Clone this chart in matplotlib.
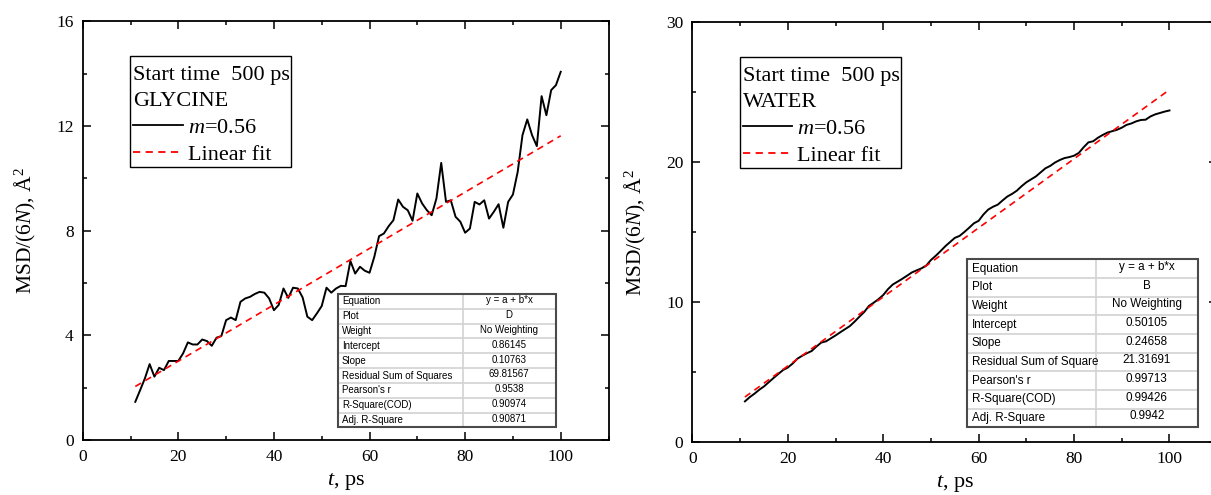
import matplotlib
matplotlib.use("Agg")
import matplotlib.pyplot as plt
from matplotlib.patches import Rectangle
from matplotlib.lines import Line2D
from matplotlib.ticker import MultipleLocator

plt.rcParams["font.family"] = ["Liberation Serif", "DejaVu Serif"]
plt.rcParams["mathtext.fontset"] = "custom"
plt.rcParams["mathtext.rm"] = "Liberation Serif"
plt.rcParams["mathtext.it"] = "Liberation Serif:italic"

# ---- data -------------------------------------------------------------
t_ps = list(range(11, 101))

msd_glycine = [
    1.46, 1.90, 2.35, 2.90, 2.42, 2.76, 2.67, 3.02, 3.02, 3.02,
    3.31, 3.73, 3.65, 3.65, 3.84, 3.78, 3.60, 3.91, 3.97, 4.58,
    4.68, 4.58, 5.28, 5.41, 5.47, 5.58, 5.66, 5.63, 5.41, 4.96,
    5.16, 5.79, 5.43, 5.82, 5.79, 5.45, 4.71, 4.58, 4.84, 5.12,
    5.82, 5.63, 5.79, 5.89, 5.88, 6.84, 6.36, 6.62, 6.47, 6.39,
    7.00, 7.79, 7.89, 8.17, 8.40, 9.19, 8.91, 8.78, 8.38, 9.42,
    9.04, 8.78, 8.59, 9.23, 10.59, 9.10, 9.16, 8.53, 8.34, 7.92,
    8.08, 9.10, 9.00, 9.16, 8.46, 8.72, 9.01, 8.11, 9.10, 9.38,
    10.25, 11.65, 12.25, 11.65, 11.23, 13.14, 12.41, 13.37, 13.56, 14.07,
]

msd_water = [
    2.90, 3.20, 3.45, 3.73, 3.97, 4.27, 4.57, 4.86, 5.14, 5.32,
    5.60, 5.95, 6.16, 6.34, 6.50, 6.82, 7.10, 7.19, 7.40, 7.61,
    7.84, 8.06, 8.28, 8.60, 8.95, 9.28, 9.72, 9.95, 10.20, 10.50,
    10.92, 11.25, 11.45, 11.66, 11.88, 12.11, 12.26, 12.40, 12.60, 13.00,
    13.30, 13.63, 13.98, 14.28, 14.58, 14.72, 15.00, 15.30, 15.62, 15.80,
    16.25, 16.60, 16.80, 16.95, 17.25, 17.53, 17.72, 17.95, 18.27, 18.55,
    18.76, 18.97, 19.26, 19.55, 19.72, 19.96, 20.14, 20.28, 20.35, 20.45,
    20.65, 21.05, 21.40, 21.48, 21.73, 21.93, 22.10, 22.20, 22.30, 22.45,
    22.65, 22.75, 22.90, 23.00, 23.02, 23.25, 23.40, 23.50, 23.60, 23.68,
]

# linear fit parameters: intercept a, slope b
fit_glycine = (0.86145, 0.10763)
fit_water = (0.50105, 0.24658)

report_keys_glycine = ["Equation", "Plot", "Weight", "Intercept", "Slope",
                       "Residual Sum of Squares", "Pearson's r",
                       "R-Square(COD)", "Adj. R-Square"]
report_keys_water = ["Equation", "Plot", "Weight", "Intercept", "Slope",
                     "Residual Sum of Square", "Pearson's r",
                     "R-Square(COD)", "Adj. R-Square"]
report_glycine = ["y = a + b*x", "D", "No Weighting",
                  f"{fit_glycine[0]:.5f}", f"{fit_glycine[1]:.5f}",
                  "69.81567", "0.9538", "0.90974", "0.90871"]
report_water = ["y = a + b*x", "B", "No Weighting",
                f"{fit_water[0]:.5f}", f"{fit_water[1]:.5f}",
                "21.31691", "0.99713", "0.99426", "0.9942"]

start_label = "Start time  500 ps"
system_glycine = "GLYCINE"
system_water = "WATER"
series_label = r"$\mathit{m}$=0.56"
fit_label = "Linear fit"


def style_axes(ax, ymax, ymajor, yminor):
    ax.set_xlim(0, 110)
    ax.set_ylim(0, ymax)
    ax.xaxis.set_major_locator(MultipleLocator(20))
    ax.xaxis.set_minor_locator(MultipleLocator(10))
    ax.yaxis.set_major_locator(MultipleLocator(ymajor))
    ax.yaxis.set_minor_locator(MultipleLocator(yminor))
    ax.tick_params(which="both", direction="in", top=True, right=True,
                   labelsize=12.5, pad=6.5, width=1.1)
    ax.tick_params(which="major", length=5.5)
    ax.tick_params(which="minor", length=3)
    for sp in ax.spines.values():
        sp.set_linewidth(1.3)
    ax.set_xlabel(r"$\mathit{t}$, ps", fontsize=16, labelpad=4)
    ax.set_ylabel(r"MSD/(6$\mathit{N}$), Å$^2$", fontsize=15.5, labelpad=13)


def draw_key(ax, system):
    tr = ax.transAxes
    ax.add_patch(Rectangle((0.090, 0.6525), 0.307, 0.2635, transform=tr,
                           facecolor="white", edgecolor="black", lw=1.0,
                           zorder=8))
    fs = 16
    ax.text(0.0962, 0.8595, start_label, transform=tr, fontsize=fs,
            va="baseline", ha="left", zorder=9)
    ax.text(0.0962, 0.7965, system, transform=tr, fontsize=fs,
            va="baseline", ha="left", zorder=9)
    ax.add_line(Line2D([0.0962, 0.190], [0.752, 0.752], transform=tr,
                       color="black", lw=1.3, zorder=9))
    ax.text(0.1999, 0.7325, series_label, transform=tr, fontsize=fs,
            va="baseline", ha="left", zorder=9)
    ax.add_line(Line2D([0.0962, 0.190], [0.687, 0.687], transform=tr,
                       color="red", lw=1.3, ls=(0, (4, 3)), zorder=9))
    ax.text(0.1999, 0.6695, fit_label, transform=tr, fontsize=fs,
            va="baseline", ha="left", zorder=9)


def draw_report(ax, keys, values, x0, x1, xd, ytop, ybot, fontsize, padx):
    tr = ax.transAxes
    n = len(keys)
    h = (ytop - ybot) / n
    ax.add_patch(Rectangle((x0, ybot), x1 - x0, ytop - ybot, transform=tr,
                           facecolor="white", edgecolor="none", zorder=4))
    for i in range(1, n):
        y = ytop - i * h
        ax.add_line(Line2D([x0, x1], [y, y], transform=tr,
                           color="#d2d2d2", lw=1.2, zorder=5))
    ax.add_line(Line2D([xd, xd], [ybot, ytop], transform=tr,
                       color="#d2d2d2", lw=1.2, zorder=5))
    ax.add_patch(Rectangle((x0, ybot), x1 - x0, ytop - ybot, transform=tr,
                           facecolor="none", edgecolor="#4a4a4a", lw=1.5,
                           zorder=6))
    for i, (k, v) in enumerate(zip(keys, values)):
        yc = ytop - (i + 0.5) * h
        ax.text(x0 + padx, yc, k, transform=tr, fontsize=fontsize,
                family="Liberation Sans", ha="left", va="center", zorder=7)
        ax.text((xd + x1) / 2, yc + h * 0.08, v, transform=tr,
                fontsize=fontsize, family="Liberation Sans", ha="center",
                va="center", zorder=7)


fig = plt.figure(figsize=(12.11, 4.95), dpi=100)

# ---- glycine panel ----------------------------------------------------
ax1 = fig.add_axes([0.0683, 0.1111, 0.4342, 0.8459])
a, b = fit_glycine
ax1.plot(t_ps, msd_glycine, color="black", lw=1.4, zorder=3)
ax1.plot([t_ps[0], t_ps[-1]], [a + b * t_ps[0], a + b * t_ps[-1]],
         color="red", lw=1.2, ls=(0, (4, 3)), zorder=3)
style_axes(ax1, 16, 4, 2)
draw_key(ax1, system_glycine)
draw_report(ax1, report_keys_glycine, report_glycine,
            0.4863, 0.8992, 0.7223, 0.3487, 0.0299, 7, 0.0065)

# ---- water panel ------------------------------------------------------
ax2 = fig.add_axes([0.5718, 0.1071, 0.4333, 0.8485])
a, b = fit_water
ax2.plot(t_ps, msd_water, color="black", lw=1.4, zorder=3)
ax2.plot([t_ps[0], t_ps[-1]], [a + b * t_ps[0], a + b * t_ps[-1]],
         color="red", lw=1.2, ls=(0, (4, 3)), zorder=3)
style_axes(ax2, 30, 10, 5)
draw_key(ax2, system_water)
draw_report(ax2, report_keys_water, report_water,
            0.5237, 0.9634, 0.7682, 0.435, 0.035, 8.4, 0.009)

fig.savefig("out.png", dpi=100)
